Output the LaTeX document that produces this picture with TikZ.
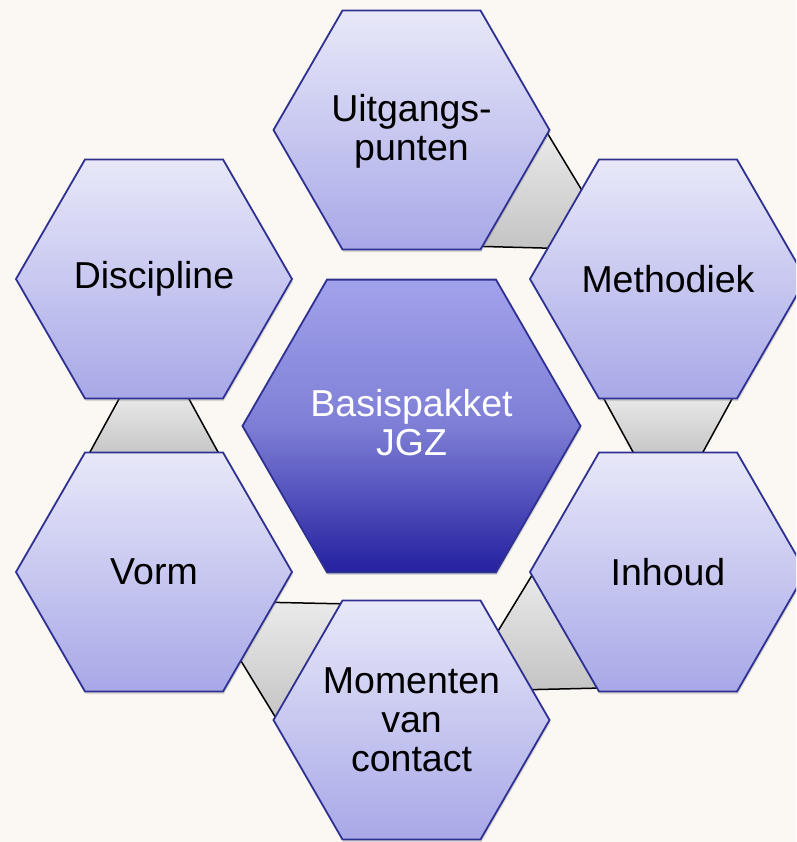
\documentclass[tikz,border=0pt]{standalone}
\usepackage{fontspec}
\setmainfont{Liberation Sans}
\usetikzlibrary{shapes.geometric,calc,shadows}
\definecolor{bg}{RGB}{251,247,242}
\definecolor{hexline}{RGB}{46,49,146}
\definecolor{outtop}{RGB}{232,232,249}
\definecolor{outbot}{RGB}{168,168,232}
\definecolor{ctop}{RGB}{162,162,236}
\definecolor{cmid}{RGB}{126,126,214}
\definecolor{cbot}{RGB}{36,32,160}
\definecolor{grtop}{RGB}{234,234,234}
\definecolor{grbot}{RGB}{196,196,196}
\newcommand\graylink[2]{%
  \coordinate (lkm) at ($(#1)!0.5!(#2)$);
  \coordinate (lka) at ($(lkm)!32pt!180:(#2)$);
  \coordinate (lkb) at ($(lkm)!32pt!(#2)$);
  \coordinate (lka1) at ($(lka)!67pt!90:(#2)$);
  \coordinate (lka2) at ($(lka)!67pt!-90:(#2)$);
  \coordinate (lkb1) at ($(lkb)!32pt!90:(#2)$);
  \coordinate (lkb2) at ($(lkb)!32pt!-90:(#2)$);
  \path[link] (lka1) -- (lkb1) -- (lkb2) -- (lka2) -- cycle;
  \draw[linkedge] (lka1) -- (lkb1);
  \draw[linkedge] (lka2) -- (lkb2);
}
\begin{document}
\begin{tikzpicture}[x=1pt,y=1pt,
  hexbase/.style={regular polygon, regular polygon sides=6, inner sep=0pt,
    draw=hexline, line width=1.8pt,
    drop shadow={opacity=0.28, shadow xshift=1pt, shadow yshift=-2.5pt}},
  outerhex/.style={hexbase, minimum size=276pt, top color=outtop, bottom color=outbot},
  centerhex/.style={hexbase, minimum size=338pt, top color=ctop, bottom color=cbot, middle color=cmid},
  hextext/.style={align=center, inner sep=0pt, font=\fontsize{37.5}{39}\selectfont},
  link/.style={top color=grtop, bottom color=grbot},
  linkedge/.style={draw=black, line width=1.5pt}]
\useasboundingbox (0,0) rectangle (796,-842);
\clip (0,0) rectangle (796,-842);
\fill[bg] (0,0) rectangle (796,-842);
\coordinate (pC) at (411.5,-426);
\coordinate (pU) at (411.5,-130);
\coordinate (pM) at (668,-279);
\coordinate (pI) at (668,-572);
\coordinate (pMo) at (411.5,-720);
\coordinate (pV) at (154,-572);
\coordinate (pD) at (154,-279);
\graylink{pU}{pM}
\graylink{pM}{pI}
\graylink{pI}{pMo}
\graylink{pMo}{pV}
\graylink{pV}{pD}
\node[outerhex] (U) at (pU) {};
\node[outerhex] (M) at (pM) {};
\node[outerhex] (I) at (pI) {};
\node[outerhex] (Mo) at (pMo) {};
\node[outerhex] (V) at (pV) {};
\node[outerhex] (D) at (pD) {};
\node[centerhex] (C) at (pC) {};
\node[hextext] (tU) at ($(U.center)+(0,-1)$) {Uitgangs-\\punten};
\node[hextext] (tM) at (M.center) {Methodiek};
\node[hextext] (tI) at (I.center) {Inhoud};
\node[hextext] (tMo) at (Mo.center) {Momenten\\van\\contact};
\node[hextext] (tV) at (V.center) {Vorm};
\node[hextext] (tD) at (D.center) {Discipline};
\node[hextext, text=white] (tC) at ($(C.center)+(0,3)$) {Basispakket\\JGZ};
\end{tikzpicture}
\end{document}
